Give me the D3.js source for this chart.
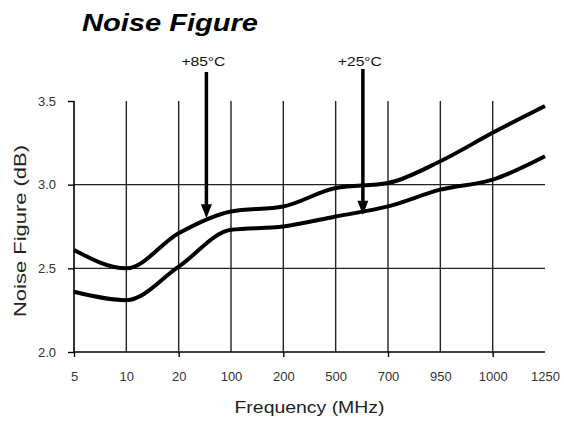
<!DOCTYPE html>
<html>
<head>
<meta charset="utf-8">
<script src="https://cdn.jsdelivr.net/npm/d3@7"></script>
<style>
html,body{margin:0;padding:0;background:#fff;}
svg{display:block;font-family:"Liberation Sans",Arial,sans-serif;}
</style>
</head>
<body>
<svg id="chart" width="564" height="423"></svg>
<script>
const categories = ["5","10","20","100","200","500","700","950","1000","1250"];
const nf85 = [2.61, 2.50, 2.71, 2.84, 2.87, 2.98, 3.01, 3.14, 3.31, 3.47];
const nf25 = [2.36, 2.31, 2.51, 2.73, 2.75, 2.81, 2.87, 2.97, 3.03, 3.17];
const yTicks = [2.0, 2.5, 3.0, 3.5];
const yGrid = [2.5, 3.0];
const annotations = [
  {label:"+85\u00B0C", from:"20", to:"100", frac:0.53, tip:2.80},
  {label:"+25\u00B0C", from:"500", to:"700", frac:0.52, tip:2.82}
];

(function(){
const svg = d3.select("#chart");
const pl = 74, pr = 545, pt = 101, pb = 352;

const x = d3.scalePoint().domain(categories).range([pl, pr]).padding(0);
const y = d3.scaleLinear().domain([2.0, 3.5]).range([pb, pt]);

// vertical grid lines
svg.append("g").selectAll("line")
  .data(categories.slice(1, -1)).join("line")
  .attr("x1", d => x(d)).attr("x2", d => x(d))
  .attr("y1", pt).attr("y2", pb)
  .attr("stroke", "#222").attr("stroke-width", 1.4);

// horizontal grid lines
svg.append("g").selectAll("line")
  .data(yGrid).join("line")
  .attr("x1", pl).attr("x2", pr)
  .attr("y1", d => y(d)).attr("y2", d => y(d))
  .attr("stroke", "#222").attr("stroke-width", 1.4);

// x axis
const xAxis = d3.axisBottom(x).tickSize(0).tickPadding(0);
const gx = svg.append("g").attr("transform", `translate(0,${pb})`).call(xAxis);
gx.select(".domain").attr("stroke", "#000").attr("stroke-width", 1.6).attr("d", `M${pl},0H${pr}`);
gx.selectAll(".tick text").attr("y", 29).attr("dy", 0)
  .attr("font-size", 13).attr("fill", "#333")
  .attr("font-family", "'Liberation Sans',Arial,sans-serif");
gx.selectAll(".tick").each(function(d, i){
  if (i % 2 === 0 && i < categories.length - 1) {
    d3.select(this).append("line").attr("y1", 0).attr("y2", 5)
      .attr("stroke", "#000").attr("stroke-width", 1.4);
  }
});

// y axis
const yAxis = d3.axisLeft(y).tickValues(yTicks).tickFormat(d3.format(".1f")).tickSize(6).tickPadding(12);
const gy = svg.append("g").attr("transform", `translate(${pl},0)`).call(yAxis);
gy.select(".domain").attr("stroke", "#000").attr("stroke-width", 1.6).attr("d", `M0,${pt}V${pb}`);
gy.selectAll(".tick line").attr("stroke", "#000").attr("stroke-width", 1.4);
gy.selectAll(".tick text").attr("font-size", 13).attr("fill", "#333")
  .attr("font-family", "'Liberation Sans',Arial,sans-serif");

// curves
const line = d3.line().x((d, i) => x(categories[i])).y(d => y(d)).curve(d3.curveMonotoneX);
[nf85, nf25].forEach(s => {
  svg.append("path").datum(s).attr("d", line)
    .attr("fill", "none").attr("stroke", "#000").attr("stroke-width", 4)
    .attr("stroke-linejoin", "round").attr("stroke-linecap", "butt");
});

// annotations with arrows
annotations.forEach((a, k) => {
  const ax = x(a.from) + a.frac * (x(a.to) - x(a.from));
  const tipY = y(a.tip);
  const topY = k === 0 ? 72 : 69;
  const headH = 14, headW = 11;
  svg.append("line").attr("x1", ax).attr("x2", ax).attr("y1", topY).attr("y2", tipY - headH + 2)
    .attr("stroke", "#000").attr("stroke-width", 3.5);
  svg.append("path")
    .attr("d", `M${ax - headW/2},${tipY - headH}L${ax + headW/2},${tipY - headH}L${ax},${tipY}Z`)
    .attr("fill", "#000");
  svg.append("text").attr("x", ax - 3).attr("y", 66)
    .attr("text-anchor", "middle").attr("font-size", 13).attr("fill", "#111")
    .attr("textLength", 44).attr("lengthAdjust", "spacingAndGlyphs")
    .text(a.label);
});

// title
svg.append("text").attr("x", 82).attr("y", 31)
  .attr("font-size", 24).attr("font-weight", "bold").attr("font-style", "italic")
  .attr("fill", "#000").attr("textLength", 176).attr("lengthAdjust", "spacingAndGlyphs")
  .text("Noise Figure");

// x axis label
svg.append("text").attr("x", (pl + pr) / 2).attr("y", 413)
  .attr("text-anchor", "middle").attr("font-size", 16).attr("fill", "#222")
  .attr("textLength", 150).attr("lengthAdjust", "spacingAndGlyphs")
  .text("Frequency (MHz)");

// y axis label
svg.append("text").attr("transform", "translate(26,231) rotate(-90)")
  .attr("text-anchor", "middle").attr("font-size", 16).attr("fill", "#222")
  .attr("textLength", 172).attr("lengthAdjust", "spacingAndGlyphs")
  .text("Noise Figure (dB)");
})();
</script>
</body>
</html>
